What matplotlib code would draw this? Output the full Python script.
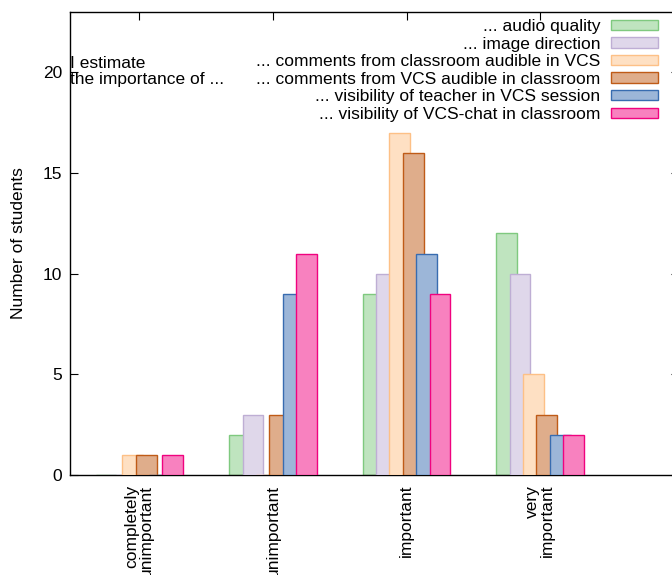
import numpy as np
import matplotlib.pyplot as plt
from matplotlib.colors import to_rgb

plt.rcParams['font.family'] = ['Liberation Sans', 'DejaVu Sans']

# ---------------- data ----------------
categories = ['completely\nunimportant', 'unimportant', 'important', 'very\nimportant']
series = ['... audio quality',
          '... image direction',
          '... comments from classroom audible in VCS',
          '... comments from VCS audible in classroom',
          '... visibility of teacher in VCS session',
          '... visibility of VCS-chat in classroom']
audio = [0, 2, 9, 12]
image = [0, 3, 10, 10]
comments_class = [1, 0, 17, 5]
comments_vcs = [1, 3, 16, 3]
teacher = [0, 9, 11, 2]
chat = [1, 11, 9, 2]
values = [audio, image, comments_class, comments_vcs, teacher, chat]
colors = ['#7fc97f', '#beaed4', '#fdc086', '#bf5b17', '#386cb0', '#f0027f']

# light, opaque fill = half way to white
fills = [tuple(0.5 * c + 0.5 for c in to_rgb(col)) for col in colors]

# ---------------- plot ----------------
fs = 12.5
fig = plt.figure(figsize=(6.72, 5.75), dpi=100)
ax = fig.add_axes([70 / 672, 100 / 575, 609 / 672, 463 / 575])

x = np.arange(len(categories))
step = 0.1
width = 0.156
for i, vals in enumerate(values):
    ax.bar(x + (i - 2.5) * step, vals, width, facecolor=fills[i],
           edgecolor=colors[i], linewidth=1.0, label=series[i], zorder=2 + i)

ax.set_xlim(-0.52, 4.04)
ax.set_ylim(0, 23)
ax.set_yticks([0, 5, 10, 15, 20])
ax.set_xticks(x)
ax.set_xticklabels(categories, rotation=90, ha='center', va='top',
                   multialignment='right', fontsize=fs, linespacing=0.95)
ax.tick_params(axis='y', direction='in', length=6, right=True, labelsize=fs, pad=5.5)
ax.tick_params(axis='x', direction='in', length=6, top=True, bottom=False, pad=7)
for s in ax.spines.values():
    s.set_linewidth(1.0)
ax.set_ylabel('Number of students', fontsize=fs, labelpad=12)

leg = ax.legend(loc='upper right', bbox_to_anchor=(0.9655, 0.985), frameon=False,
                markerfirst=False, fontsize=fs, handlelength=2.7, handleheight=0.55,
                handletextpad=0.63, labelspacing=0.15, borderpad=0, borderaxespad=0)

ax.text(0.0, 0.905, 'I estimate\nthe importance of ...', transform=ax.transAxes,
        fontsize=fs, ha='left', va='top', linespacing=1.12)

fig.savefig('out.png', dpi=100)
